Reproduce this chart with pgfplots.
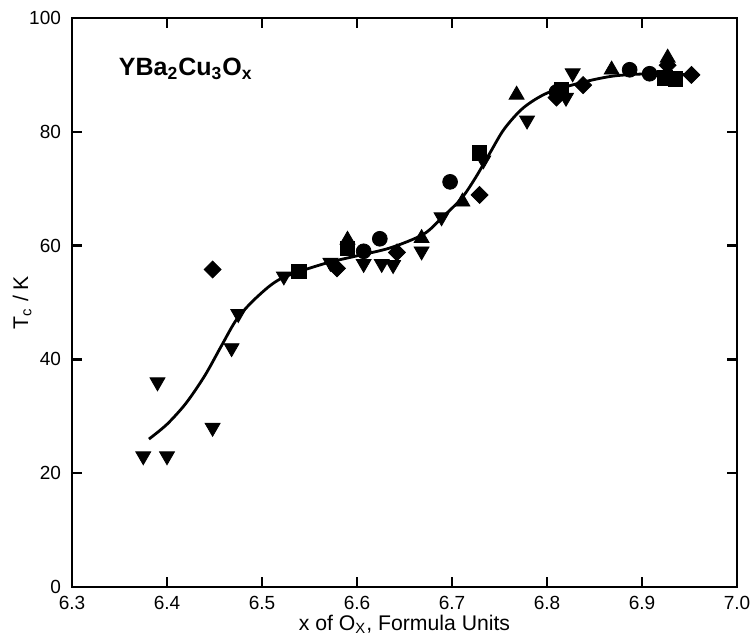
\documentclass[border=0pt]{standalone}
\usepackage{fontspec}
\setmainfont{Liberation Sans}
\usepackage{pgfplots}
\pgfplotsset{compat=1.18}

\begin{document}
\begin{tikzpicture}
\begin{axis}[
  scale only axis,
  width=332.5pt, height=284.5pt,
  xmin=6.3, xmax=7.0, ymin=0, ymax=100,
  xtick={6.3,6.4,...,7.0},
  ytick={0,20,...,100},
  xticklabel style={/pgf/number format/fixed, /pgf/number format/fixed zerofill,
    /pgf/number format/precision=1, yshift=-1pt},
  yticklabel style={xshift=-2pt},
  /pgf/number format/assume math mode=true,
  tick align=inside,
  major tick length=5pt,
  tick style={line width=1.2pt, black},
  axis line style={line width=1.4pt},
  ticklabel style={font=\fontsize{9.5}{11}\selectfont},
  xlabel={x of O\textsubscript{X}, Formula Units},
  ylabel={T\textsubscript{c} / K},
  label style={font=\fontsize{10.6}{12}\selectfont},
  xlabel style={at={(axis description cs:0.5,-0.066)}, anchor=center},
  ylabel style={at={(axis description cs:-0.075,0.5)}, anchor=center},
  clip=false,
]
% fitted curve
\addplot[black, line width=1.4pt, smooth, no marks] coordinates {
  (6.381,26) (6.40,28.6) (6.42,32.3) (6.44,37.2) (6.458,42.6) (6.474,47.2)
  (6.495,51) (6.52,54.2) (6.565,56.8) (6.60,58.2) (6.635,59.6) (6.67,62)
  (6.69,65) (6.71,68.3) (6.725,72) (6.74,76.3) (6.755,80.5) (6.775,84.2)
  (6.80,86.8) (6.835,88.6) (6.87,89.8) (6.91,90.2) (6.95,90)
};
% down triangles
\addplot[only marks, mark=triangle*, mark size=4.3pt, mark options={rotate=180, fill=black, draw=black}] coordinates {
  (6.375,23) (6.40,23) (6.39,36) (6.448,28) (6.468,42) (6.475,48)
  (6.523,54.6) (6.572,57) (6.607,56.8) (6.626,56.8) (6.638,56.6)
  (6.668,59) (6.689,65) (6.733,75) (6.779,82) (6.82,86) (6.827,90.3)
};
% up triangles
\addplot[only marks, mark=triangle*, mark size=4.3pt, mark options={fill=black, draw=black}] coordinates {
  (6.59,61) (6.668,61.3) (6.711,67.7) (6.768,86.5) (6.868,90.9) (6.927,93)
};
% squares
\addplot[only marks, mark=square*, mark size=3.6pt, mark options={fill=black, draw=black}] coordinates {
  (6.539,55.5) (6.59,59.5) (6.729,76.3) (6.815,87.5) (6.924,89.5) (6.935,89.3)
};
% circles
\addplot[only marks, mark=*, mark size=3.7pt, mark options={fill=black, draw=black}] coordinates {
  (6.607,59) (6.624,61.2) (6.698,71.2) (6.81,87) (6.887,90.9) (6.908,90.2)
};
% diamonds
\addplot[only marks, mark=square*, mark size=3pt, mark options={rotate=45, fill=black, draw=black}] coordinates {
  (6.448,55.8) (6.579,56) (6.642,58.8) (6.729,68.9) (6.81,86) (6.838,88.2)
  (6.927,91.7) (6.952,90)
};
\node[anchor=west, font=\bfseries\fontsize{12.5}{14}\selectfont] at (axis cs:6.342,91)
  {YBa\textsubscript{2}Cu\textsubscript{3}O\textsubscript{x}};
\end{axis}
\pgfresetboundingbox
\path (current axis.south west) ++(-36pt,-24pt) rectangle ([shift={(6.5pt,9pt)}]current axis.north east);
\end{tikzpicture}
\end{document}
